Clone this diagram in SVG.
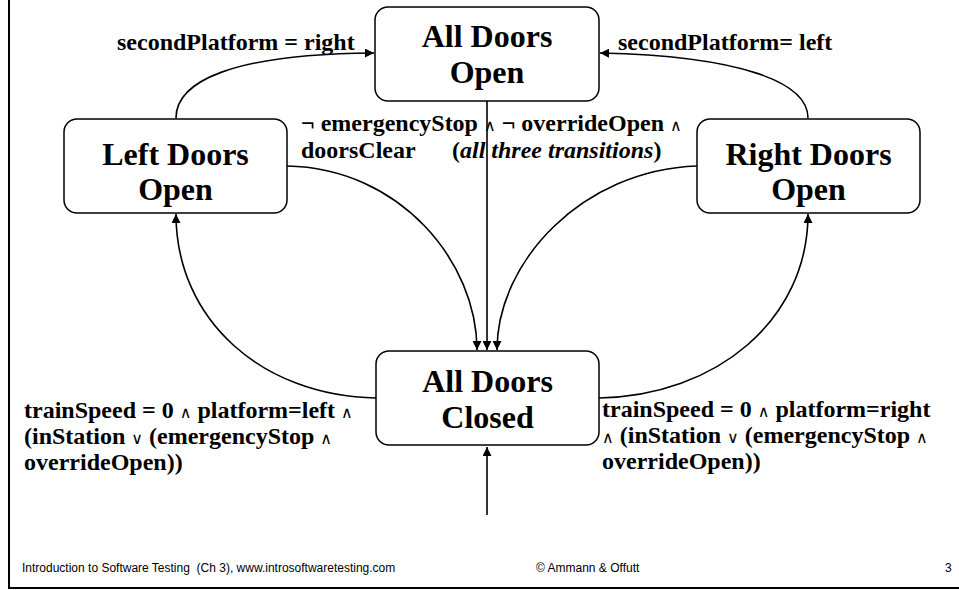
<svg xmlns="http://www.w3.org/2000/svg" width="959" height="590" viewBox="0 0 959 590">
  <style>
    .state rect { fill: #ffffff; stroke: #000000; stroke-width: 1.5; }
    .state text { font-family: "Liberation Serif", "Times New Roman", serif; font-weight: bold; font-size: 32px; text-anchor: middle; fill: #000000; }
    .lbl { font-family: "Liberation Serif", "Times New Roman", serif; font-weight: bold; font-size: 24px; fill: #000000; }
    .op { font-family: "DejaVu Sans", sans-serif; font-weight: normal; font-size: 16px; }
    .foot { font-family: "Liberation Sans", Arial, sans-serif; font-size: 12px; fill: #000000; white-space: pre; }
    .edge { fill: none; stroke: #000000; stroke-width: 1.6; }
  </style>
  <defs>
    <marker id="arrow" viewBox="0 0 10 10" refX="10" refY="5" markerWidth="9" markerHeight="9" markerUnits="userSpaceOnUse" orient="auto">
      <path d="M0,0 L10,5 L0,10 Z" fill="#000000"/>
    </marker>
  </defs>

  <rect width="959" height="590" fill="#ffffff"/>

  <!-- slide frame -->
  <g id="frame">
    <line x1="9" y1="0" x2="9" y2="589" stroke="#000000" stroke-width="2"/>
    <line x1="8" y1="588" x2="959" y2="588" stroke="#000000" stroke-width="2"/>
  </g>

  <!-- transitions -->
  <g id="connectors">
    <path class="edge" d="M176,118 C176,82 230,54 374,53" marker-end="url(#arrow)"/>
    <path class="edge" d="M808,118 C808,82 740,56 600,53" marker-end="url(#arrow)"/>
    <path class="edge" d="M487,101 L487,350" marker-end="url(#arrow)"/>
    <path class="edge" d="M287,166 C400,168 477,262 477,350" marker-end="url(#arrow)"/>
    <path class="edge" d="M697,166 C582,170 497,262 497,350" marker-end="url(#arrow)"/>
    <path class="edge" d="M376,398 C262,396 176,320 176,214" marker-end="url(#arrow)"/>
    <path class="edge" d="M599,398 C716,396 808,320 808,214" marker-end="url(#arrow)"/>
    <path class="edge" d="M487,515 L487,447" stroke-width="2.2" marker-end="url(#arrow)"/>
  </g>

  <!-- states -->
  <g id="all-doors-open" class="state">
    <rect x="375" y="7" width="224" height="94" rx="13"/>
    <text x="487" y="47">All Doors</text>
    <text x="487" y="83">Open</text>
  </g>
  <g id="left-doors-open" class="state">
    <rect x="64" y="119" width="223" height="94" rx="13"/>
    <text x="175.5" y="165">Left Doors</text>
    <text x="175.5" y="200">Open</text>
  </g>
  <g id="right-doors-open" class="state">
    <rect x="697" y="119" width="223" height="94" rx="13"/>
    <text x="808.5" y="165">Right Doors</text>
    <text x="808.5" y="200">Open</text>
  </g>
  <g id="all-doors-closed" class="state">
    <rect x="376" y="351" width="223" height="94" rx="13"/>
    <text x="487.5" y="392">All Doors</text>
    <text x="487.5" y="428">Closed</text>
  </g>

  <!-- transition labels -->
  <g id="labels">
    <text class="lbl" x="117" y="50">secondPlatform = right</text>
    <text class="lbl" x="618" y="50">secondPlatform= left</text>
    <text class="lbl" x="301" y="131">¬ emergencyStop <tspan class="op">∧</tspan> ¬ overrideOpen <tspan class="op">∧</tspan></text>
    <text class="lbl" x="301" y="158">doorsClear</text>
    <text class="lbl" x="452" y="158">(<tspan font-style="italic">all three transitions</tspan>)</text>
    <text class="lbl" x="24" y="418">trainSpeed = 0 <tspan class="op">∧</tspan> platform=left <tspan class="op">∧</tspan></text>
    <text class="lbl" x="24" y="444">(inStation <tspan class="op">∨</tspan> (emergencyStop <tspan class="op">∧</tspan></text>
    <text class="lbl" x="24" y="470">overrideOpen))</text>
    <text class="lbl" x="602" y="417">trainSpeed = 0 <tspan class="op">∧</tspan> platform=right</text>
    <text class="lbl" x="602" y="443"><tspan class="op">∧</tspan> (inStation <tspan class="op">∨</tspan> (emergencyStop <tspan class="op">∧</tspan></text>
    <text class="lbl" x="602" y="469">overrideOpen))</text>
  </g>

  <!-- footer -->
  <g id="footer">
    <text class="foot" x="22" y="572">Introduction to Software Testing  (Ch 3), www.introsoftwaretesting.com</text>
    <text class="foot" x="536" y="572">© Ammann &amp; Offutt</text>
    <text class="foot" x="945" y="572">3</text>
  </g>
</svg>
